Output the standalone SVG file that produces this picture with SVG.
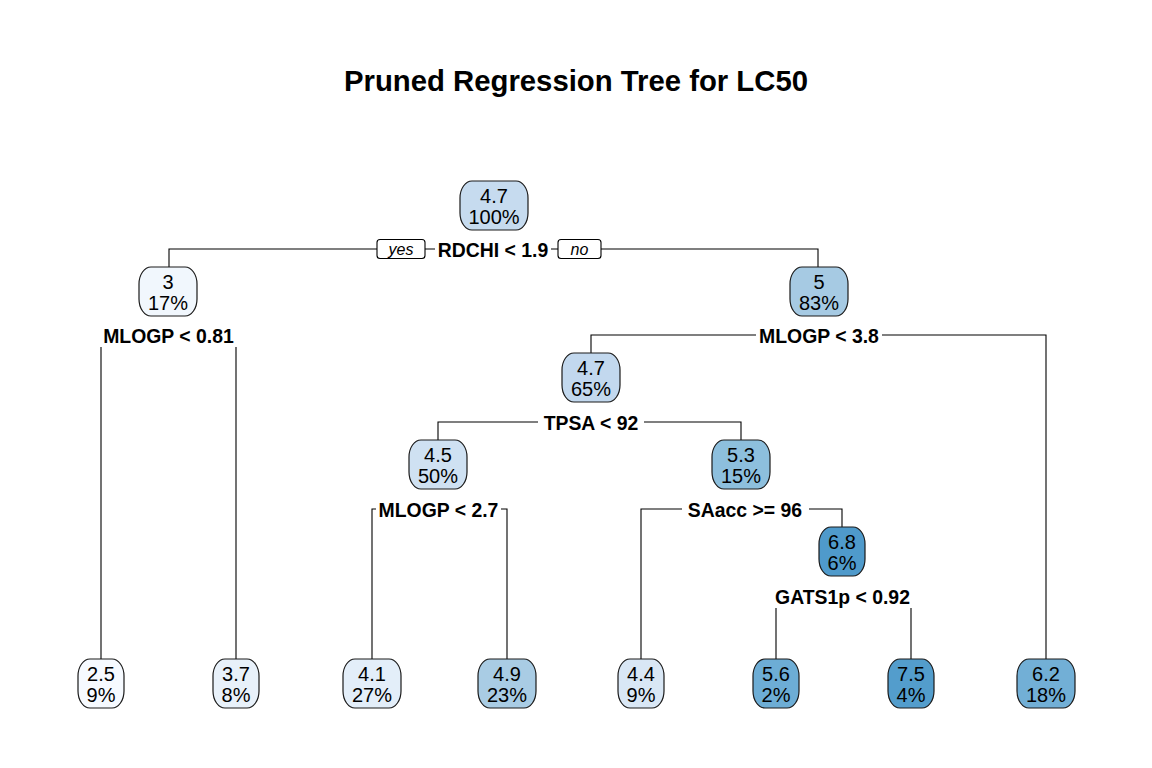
<svg xmlns="http://www.w3.org/2000/svg" width="1152" height="768" viewBox="0 0 1152 768">
<style>
.bg{fill:#ffffff}
.ttl{font-family:"Liberation Sans",Arial,sans-serif;font-size:29.3px;font-weight:bold;fill:#000;text-anchor:middle}
.val{font-family:"Liberation Sans",Arial,sans-serif;font-size:20px;fill:#000;text-anchor:middle}
.spl{font-family:"Liberation Sans",Arial,sans-serif;font-size:19.4px;font-weight:bold;fill:#000;text-anchor:middle}
.yn{font-family:"Liberation Sans",Arial,sans-serif;font-size:16px;font-style:italic;fill:#000;text-anchor:middle}
.box{stroke:#1a1a1a;stroke-width:1.2}
.edge{fill:none;stroke:#000;stroke-width:1.1}
.lbg{fill:#ffffff;stroke:none}
.ynb{fill:#ffffff;stroke:#000;stroke-width:1.1}
</style>
<rect class="bg" x="0" y="0" width="1152" height="768"/>
<text class="ttl" x="576" y="91">Pruned Regression Tree for LC50</text>

<g id="connectors">
<path class="edge" d="M169,267 V249 H818 V267"/>
<path class="edge" d="M101,659 V335 H236 V659"/>
<path class="edge" d="M591,353 V335 H1046 V659"/>
<path class="edge" d="M438,440 V422 H741 V440"/>
<path class="edge" d="M372,659 V509 H507 V659"/>
<path class="edge" d="M641,659 V509 H842 V527"/>
<path class="edge" d="M776,659 V596 H911 V659"/>
</g>

<g id="split-labels">
<rect class="lbg" x="435" y="239" width="116" height="22"/>
<text class="spl" x="493" y="257">RDCHI &lt; 1.9</text>
<rect class="ynb" x="377" y="239.5" width="48" height="19" rx="3"/>
<text class="yn" x="401" y="255">yes</text>
<rect class="ynb" x="558" y="239.5" width="43" height="19" rx="3"/>
<text class="yn" x="579.5" y="255">no</text>

<rect class="lbg" x="99" y="325" width="140" height="22"/>
<text class="spl" x="168.5" y="343">MLOGP &lt; 0.81</text>

<rect class="lbg" x="756" y="325" width="126" height="22"/>
<text class="spl" x="819" y="343">MLOGP &lt; 3.8</text>

<rect class="lbg" x="538" y="412" width="106" height="22"/>
<text class="spl" x="591" y="430">TPSA &lt; 92</text>

<rect class="lbg" x="376" y="499" width="125" height="22"/>
<text class="spl" x="438.5" y="517">MLOGP &lt; 2.7</text>

<rect class="lbg" x="682" y="499" width="127" height="22"/>
<text class="spl" x="745" y="517">SAacc &gt;= 96</text>

<rect class="lbg" x="771" y="586" width="143" height="22"/>
<text class="spl" x="842.5" y="604">GATS1p &lt; 0.92</text>
</g>

<g id="node-root">
<rect class="box" x="460" y="181" width="68" height="49" rx="12" ry="17" fill="#c6dbef"/>
<text class="val" x="494" y="203">4.7</text>
<text class="val" x="494" y="224">100%</text>
</g>
<g id="node-2">
<rect class="box" x="139" y="267" width="58" height="49" rx="12" ry="17" fill="#f1f7fd"/>
<text class="val" x="168" y="289">3</text>
<text class="val" x="168" y="310">17%</text>
</g>
<g id="node-3">
<rect class="box" x="790" y="267" width="58" height="49" rx="12" ry="17" fill="#a6cae3"/>
<text class="val" x="819" y="289">5</text>
<text class="val" x="819" y="310">83%</text>
</g>
<g id="node-6">
<rect class="box" x="562" y="353" width="58" height="49" rx="12" ry="17" fill="#c2d8ee"/>
<text class="val" x="591" y="375">4.7</text>
<text class="val" x="591" y="396">65%</text>
</g>
<g id="node-12">
<rect class="box" x="409" y="440" width="58" height="49" rx="12" ry="17" fill="#cfe1f2"/>
<text class="val" x="438" y="462">4.5</text>
<text class="val" x="438" y="483">50%</text>
</g>
<g id="node-13">
<rect class="box" x="712" y="440" width="58" height="49" rx="12" ry="17" fill="#8dbfdd"/>
<text class="val" x="741" y="462">5.3</text>
<text class="val" x="741" y="483">15%</text>
</g>
<g id="node-27">
<rect class="box" x="819" y="527" width="46" height="49" rx="12" ry="17" fill="#4f9acb"/>
<text class="val" x="842" y="549">6.8</text>
<text class="val" x="842" y="570">6%</text>
</g>

<g id="leaf-4">
<rect class="box" x="78" y="659" width="46" height="49" rx="12" ry="17" fill="#f6faff"/>
<text class="val" x="101" y="681">2.5</text>
<text class="val" x="101" y="702">9%</text>
</g>
<g id="leaf-5">
<rect class="box" x="213" y="659" width="46" height="49" rx="12" ry="17" fill="#e8f1fa"/>
<text class="val" x="236" y="681">3.7</text>
<text class="val" x="236" y="702">8%</text>
</g>
<g id="leaf-24">
<rect class="box" x="343" y="659" width="58" height="49" rx="12" ry="17" fill="#e3eef9"/>
<text class="val" x="372" y="681">4.1</text>
<text class="val" x="372" y="702">27%</text>
</g>
<g id="leaf-25">
<rect class="box" x="478" y="659" width="58" height="49" rx="12" ry="17" fill="#a9cce4"/>
<text class="val" x="507" y="681">4.9</text>
<text class="val" x="507" y="702">23%</text>
</g>
<g id="leaf-26">
<rect class="box" x="618" y="659" width="46" height="49" rx="12" ry="17" fill="#d9e7f5"/>
<text class="val" x="641" y="681">4.4</text>
<text class="val" x="641" y="702">9%</text>
</g>
<g id="leaf-54">
<rect class="box" x="753" y="659" width="46" height="49" rx="12" ry="17" fill="#6dadd5"/>
<text class="val" x="776" y="681">5.6</text>
<text class="val" x="776" y="702">2%</text>
</g>
<g id="leaf-55">
<rect class="box" x="888" y="659" width="46" height="49" rx="12" ry="17" fill="#539dcc"/>
<text class="val" x="911" y="681">7.5</text>
<text class="val" x="911" y="702">4%</text>
</g>
<g id="leaf-7">
<rect class="box" x="1017" y="659" width="58" height="49" rx="12" ry="17" fill="#72afd6"/>
<text class="val" x="1046" y="681">6.2</text>
<text class="val" x="1046" y="702">18%</text>
</g>
</svg>
